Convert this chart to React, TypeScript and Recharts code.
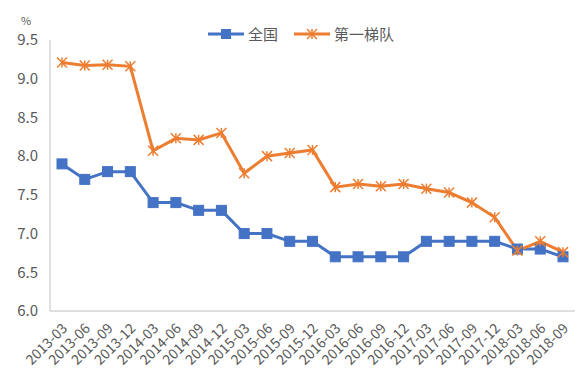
import * as React from 'react';
import { LineChart, Line, XAxis, YAxis } from 'recharts';

const periods = [
  '2013-03', '2013-06', '2013-09', '2013-12',
  '2014-03', '2014-06', '2014-09', '2014-12',
  '2015-03', '2015-06', '2015-09', '2015-12',
  '2016-03', '2016-06', '2016-09', '2016-12',
  '2017-03', '2017-06', '2017-09', '2017-12',
  '2018-03', '2018-06', '2018-09',
];
const national = [
  7.9, 7.7, 7.8, 7.8, 7.4, 7.4, 7.3, 7.3, 7.0, 7.0, 6.9, 6.9,
  6.7, 6.7, 6.7, 6.7, 6.9, 6.9, 6.9, 6.9, 6.8, 6.8, 6.7,
];
const firstTier = [
  9.21, 9.17, 9.18, 9.16, 8.07, 8.23, 8.21, 8.3, 7.78, 8.0, 8.04, 8.08,
  7.6, 7.64, 7.61, 7.64, 7.58, 7.53, 7.4, 7.21, 6.78, 6.9, 6.76,
];
const yTicks = [6.0, 6.5, 7.0, 7.5, 8.0, 8.5, 9.0, 9.5];

const BLUE = '#4472C4';
const ORANGE = '#ED7D31';
const FONT = '"Noto Sans CJK SC", "Noto Sans", sans-serif';

const data = periods.map((p, i) => ({ period: p, national: national[i], firstTier: firstTier[i] }));

const SquareDot = (props: any) => {
  const { cx, cy } = props;
  if (cx == null || cy == null) return null;
  return <rect x={cx - 5} y={cy - 5} width={10} height={10} fill={BLUE} stroke={BLUE} />;
};

const StarDot = (props: any) => {
  const { cx, cy } = props;
  if (cx == null || cy == null) return null;
  const r = 5;
  return (
    <g stroke={ORANGE} strokeWidth={1.5}>
      <line x1={cx - r} y1={cy - r} x2={cx + r} y2={cy + r} />
      <line x1={cx - r} y1={cy + r} x2={cx + r} y2={cy - r} />
      <line x1={cx} y1={cy - r} x2={cx} y2={cy + r} />
    </g>
  );
};

const XTick = (props: any) => {
  const { x, y, payload } = props;
  return (
    <text
      x={x + 2}
      y={y + 6}
      transform={`rotate(-45 ${x + 2} ${y + 6})`}
      textAnchor="end"
      dominantBaseline="central"
      fill="#595959"
      fontSize={14}
      fontFamily={FONT}
    >
      {payload.value}
    </text>
  );
};

const LegendContent = () => {
  const items = [
    { name: '全国', color: BLUE, dot: 'square' },
    { name: '第一梯队', color: ORANGE, dot: 'star' },
  ];
  return (
    <div style={{ display: 'flex', justifyContent: 'center', fontFamily: FONT, fontSize: 15, color: '#595959' }}>
      {items.map((it) => (
        <div key={it.name} style={{ display: 'flex', alignItems: 'center', marginRight: 16 }}>
          <svg width={36} height={12} style={{ marginRight: 4 }}>
            <line x1={0} y1={6} x2={36} y2={6} stroke={it.color} strokeWidth={3} />
            {it.dot === 'square' ? (
              <rect x={13} y={1} width={10} height={10} fill={it.color} />
            ) : (
              <g stroke={it.color} strokeWidth={1.5}>
                <line x1={13} y1={1} x2={23} y2={11} />
                <line x1={13} y1={11} x2={23} y2={1} />
                <line x1={18} y1={1} x2={18} y2={11} />
              </g>
            )}
          </svg>
          <span>{it.name}</span>
        </div>
      ))}
    </div>
  );
};

export default function App() {
  return (
    <div style={{ position: 'relative', width: 576, height: 378 }}>
      <div style={{ position: 'absolute', left: 13, top: 6, fontFamily: FONT, fontSize: 11, lineHeight: '12px', color: '#595959' }}>%</div>
      <div style={{ position: 'absolute', left: 200, top: 15 }}>
        <LegendContent />
      </div>
      <LineChart width={576} height={378} data={data} margin={{ top: 32, right: 9, bottom: 0, left: 0 }}>
        <XAxis
          dataKey="period"
          interval={0}
          height={75}
          padding={{ left: 12, right: 12 }}
          tick={<XTick />}
          tickLine={false}
          axisLine={{ stroke: '#BFBFBF' }}
        />
        <YAxis
          domain={[6, 9.5]}
          ticks={yTicks}
          width={42}
          tickMargin={6}
          tickFormatter={(v: number) => v.toFixed(1)}
          tick={{ fill: '#595959', fontSize: 15, fontFamily: FONT }}
          tickLine={false}
          axisLine={{ stroke: '#BFBFBF' }}
        />
        <Line
          dataKey="national"
          name="全国"
          stroke={BLUE}
          strokeWidth={3}
          dot={<SquareDot />}
          activeDot={false}
          isAnimationActive={false}
        />
        <Line
          dataKey="firstTier"
          name="第一梯队"
          stroke={ORANGE}
          strokeWidth={3}
          dot={<StarDot />}
          activeDot={false}
          isAnimationActive={false}
        />
      </LineChart>
    </div>
  );
}
